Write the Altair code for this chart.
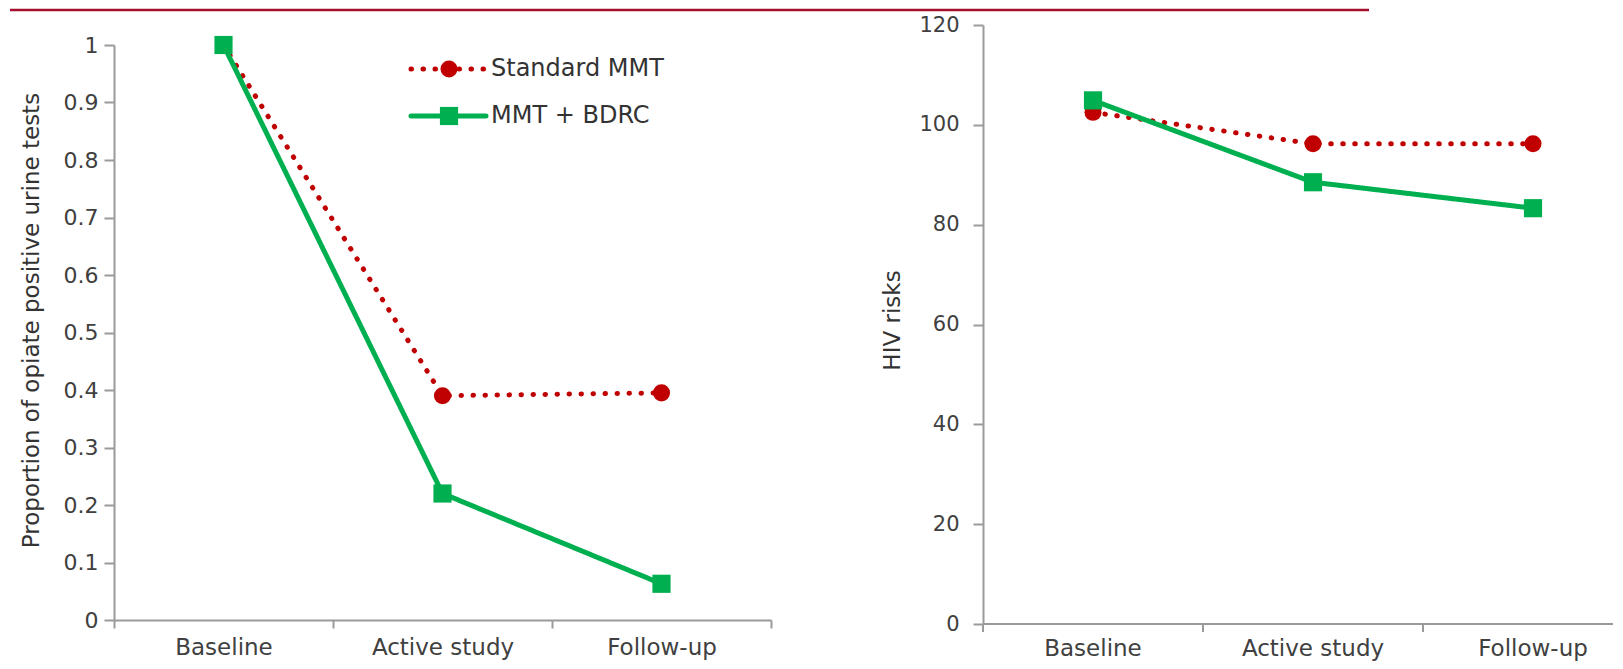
import altair as alt
import pandas as pd

categories = ["Baseline", "Active study", "Follow-up"]
series = ["Standard MMT", "MMT + BDRC"]
opiate_standard = [1.0, 0.39, 0.395]
opiate_bdrc = [1.0, 0.22, 0.063]
hiv_standard = [102.5, 96.2, 96.2]
hiv_bdrc = [104.9, 88.5, 83.3]
opiate_ticks = [0, 0.1, 0.2, 0.3, 0.4, 0.5, 0.6, 0.7, 0.8, 0.9, 1]
hiv_ticks = [0, 20, 40, 60, 80, 100, 120]

colors = ["#C00000", "#00B050"]
shapes = ["circle", "square"]
sizes = [290, 330]
dashes = [[0.5, 11.5], [1, 0]]

FONT = "DejaVu Sans"
AXC = "#9a9a9a"
TXT = "#404040"

one = pd.DataFrame({"k": [0]})
cat_df = pd.DataFrame({"period": categories})


def long_df(a, b):
    rows = []
    for s, vals in zip(series, [a, b]):
        for c, v in zip(categories, vals):
            rows.append({"period": c, "series": s, "value": v})
    return pd.DataFrame(rows)


def spacer(sx, sy):
    return alt.Chart(one).mark_rule(strokeOpacity=0, opacity=0).encode(
        x=alt.value(sx), x2=alt.value(sx + 1), y=alt.value(sy), y2=alt.value(sy + 1)
    )


def panel(df, yrange, yticks, title, width, height, title_x, title_y, sp,
          legend=False, xrange=None, xoffset=0, ylabel_pad=14, ylabel_size=21):
    manual_x = xrange is not None
    if manual_x:
        xscale = alt.Scale(domain=categories, paddingInner=0, paddingOuter=0, range=xrange)
        x_axis = None
    else:
        xscale = alt.Scale(domain=categories, paddingInner=0, paddingOuter=0)
        x_axis = alt.Axis(
            title=None, tickBand="extent", labelAngle=0, tickSize=8, labelPadding=8,
            labelFontSize=23, offset=xoffset,
        )
    x = alt.X("period:N", sort=categories, scale=xscale, axis=x_axis)
    ydom = [yticks[0], yticks[-1]]
    y = alt.Y(
        "value:Q",
        scale=alt.Scale(domain=ydom, nice=False, zero=True, range=yrange),
        axis=alt.Axis(
            values=yticks, format=".2~f", title=title, tickSize=10, labelPadding=ylabel_pad,
            labelFontSize=ylabel_size, titleFontSize=23, titleX=title_x, titleY=title_y,
            titleBaseline="middle", titleAngle=-90, titleFontWeight="normal",
            titleColor="#333333",
        ),
    )
    layers = [spacer(*sp)]
    for s, c, sh, sz, d in zip(series, colors, shapes, sizes, dashes):
        base = alt.Chart(df).transform_filter(alt.datum.series == s)
        layers.append(
            base.mark_line(color=c, strokeWidth=5, strokeDash=d, strokeCap="round").encode(x=x, y=y)
        )
        layers.append(
            base.mark_point(shape=sh, filled=True, color=c, size=sz, opacity=1).encode(x=x, y=y)
        )
    if manual_x:
        # category axis: line, band-edge ticks and labels, all placed by the band scale
        layers.append(
            alt.Chart(one).mark_rule(color=AXC, strokeWidth=2).encode(
                x=alt.value(0), x2=alt.value(width), y=alt.value(height)
            )
        )
        layers.append(
            alt.Chart(cat_df).mark_rule(color=AXC, strokeWidth=2).encode(
                x=alt.X("period:N", sort=categories, scale=xscale, bandPosition=0, axis=None),
                y=alt.value(height), y2=alt.value(height + 8),
            )
        )
        layers.append(
            alt.Chart(cat_df).mark_text(
                baseline="top", align="center", fontSize=23, font=FONT, color=TXT
            ).encode(
                x=alt.X("period:N", sort=categories, scale=xscale, axis=None),
                y=alt.value(height + 14), text="period:N",
            )
        )
    if legend:
        for i, (s, c, sh, sz, d) in enumerate(zip(series, colors, shapes, sizes, dashes)):
            ly = 44 + i * 47
            lb = alt.Chart(pd.DataFrame({"series": [s]}))
            layers.append(
                lb.mark_rule(color=c, strokeWidth=5, strokeDash=d, strokeCap="round").encode(
                    x=alt.value(297), x2=alt.value(372), y=alt.value(ly)
                )
            )
            layers.append(
                lb.mark_point(shape=sh, filled=True, color=c, size=sz, opacity=1).encode(
                    x=alt.value(335), y=alt.value(ly)
                )
            )
            layers.append(
                lb.mark_text(align="left", baseline="middle", fontSize=24, font=FONT, color="#333333").encode(
                    x=alt.value(377), y=alt.value(ly), text="series:N"
                )
            )
    return alt.layer(*layers).properties(width=width, height=height)


left = panel(
    long_df(opiate_standard, opiate_bdrc), [595, 20], opiate_ticks,
    "Proportion of opiate positive urine tests", 657, 599, -83, 295, (-104, -13),
    legend=True, xoffset=-4, ylabel_pad=6, ylabel_size=22,
)
right = panel(
    long_df(hiv_standard, hiv_bdrc), [599, 0], hiv_ticks, "HIV risks", 630, 599, -91, 295,
    (-105, -13), xrange=[0, 660],
)

redline = alt.Chart(one).mark_rule(color="#A50F2D", strokeWidth=2.5).encode(
    x=alt.value(-104), x2=alt.value(1255), y=alt.value(1)
).properties(width=1255, height=2)

chart = alt.vconcat(
    redline,
    alt.hconcat(left, right, spacing=106),
    spacing=0,
).properties(
    padding={"left": 0, "top": 0, "right": 0, "bottom": 0},
).configure_view(stroke=None).configure_axis(
    grid=False,
    domainColor=AXC, domainWidth=2, tickColor=AXC, tickWidth=2,
    labelFont=FONT, titleFont=FONT, labelColor=TXT,
).configure_concat(spacing=0)

chart.save("out.html", embed_options={"renderer": "svg", "actions": False})
